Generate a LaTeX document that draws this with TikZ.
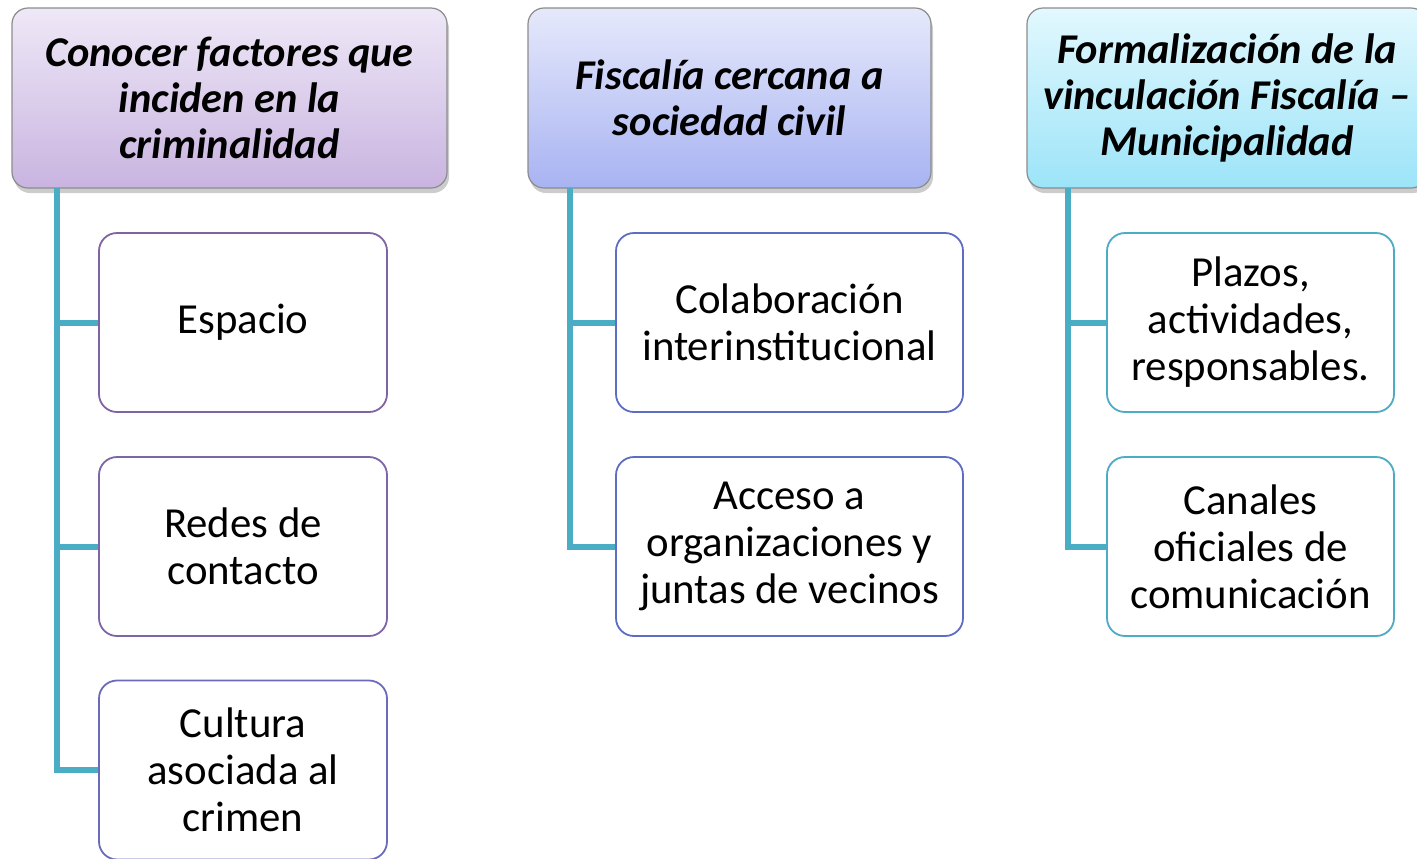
\documentclass[tikz,border=0pt]{standalone}
\usepackage{fontspec}
\setmainfont{Carlito}
\usetikzlibrary{positioning,shadows}
\definecolor{linkc}{HTML}{4BACC6}
\definecolor{violetc}{HTML}{8064A2}
\definecolor{indigoc}{HTML}{6A6CBA}
\definecolor{bluec}{HTML}{5E6DC2}
\definecolor{tealc}{HTML}{4BACC6}

\begin{document}
\begin{tikzpicture}[x=0.5pt,y=-0.5pt,
      head/.style={draw=black!45,line width=0.6pt,rounded corners=8pt,
        minimum height=90pt,align=center,inner sep=1pt,
        font=\fontsize{21.2}{23}\selectfont\bfseries\itshape,
        drop shadow={shadow xshift=1pt,shadow yshift=-2.5pt,opacity=0.4}},
      leaf/.style={draw=#1,line width=0.9pt,fill=white,rounded corners=9pt,
        minimum height=89.5pt,align=center,inner sep=1pt,
        font=\fontsize{21.4}{23.5}\selectfont},
      link/.style={linkc,line width=3pt}]
    \clip (0,0) rectangle (1417,858);
    % headers
    \node[head,minimum width=217.5pt,top color={rgb,255:red,238;green,232;blue,247},
      bottom color={rgb,255:red,201;green,180;blue,224}] (h1) at (229.5,98)
      {Conocer factores que\\inciden en la\\criminalidad};
    \node[head,minimum width=201.5pt,top color={rgb,255:red,230;green,233;blue,251},
      bottom color={rgb,255:red,168;green,179;blue,242}] (h2) at (729.5,98)
      {Fiscalía cercana a\\sociedad civil};
    \node[head,minimum width=200pt,top color={rgb,255:red,226;green,248;blue,254},
      bottom color={rgb,255:red,156;green,228;blue,248}] (h3) at (1227,98)
      {Formalización de la\\vinculación Fiscalía –\\Municipalidad};
    % column 1
    \node[leaf=violetc,minimum width=144pt] (c11) at (243,322.5) {Espacio};
    \node[leaf=violetc!85!indigoc,minimum width=144pt] (c12) at (243,546.5) {Redes de\\contacto};
    \node[leaf=indigoc,minimum width=144pt] (c13) at (243,770) {Cultura\\asociada al\\crimen};
    % column 2
    \node[leaf=bluec,minimum width=173.5pt] (c21) at (789.5,322.5) {Colaboración\\interinstitucional};
    \node[leaf=bluec,minimum width=173.5pt] (c22) at (789.5,546.5) {Acceso a\\organizaciones y\\juntas de vecinos};
    % column 3
    \node[leaf=tealc,minimum width=143.5pt] (c31) at (1250.5,322.5) {Plazos,\\actividades,\\responsables.};
    \node[leaf=tealc,minimum width=143.5pt] (c32) at (1250.5,546.5) {Canales\\oficiales de\\comunicación};
    % connectors
    \coordinate (t1) at (57,188);
    \coordinate (t2) at (570,188);
    \coordinate (t3) at (1068,188);
    \draw[link] (t1) |- (c13.west);
    \draw[link] (t1 |- c11.west) -- (c11.west);
    \draw[link] (t1 |- c12.west) -- (c12.west);
    \draw[link] (t2) |- (c22.west);
    \draw[link] (t2 |- c21.west) -- (c21.west);
    \draw[link] (t3) |- (c32.west);
    \draw[link] (t3 |- c31.west) -- (c31.west);
  \end{tikzpicture}
\end{document}
